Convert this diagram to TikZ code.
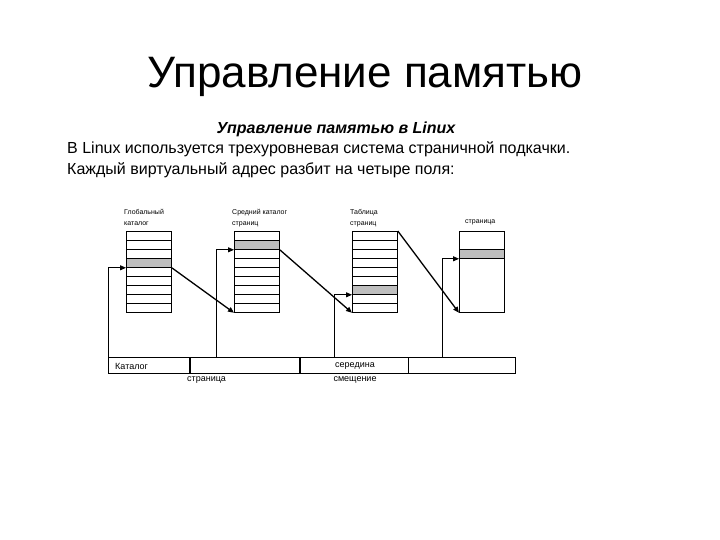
\documentclass[tikz,border=0pt]{standalone}
\usepackage{fontspec}
\setmainfont{Liberation Sans}
\usepackage{tikz}
\usetikzlibrary{arrows.meta,positioning}
\definecolor{pgline}{HTML}{000000}
\definecolor{pgcell}{HTML}{BEBEBE}

\begin{document}
\begin{tikzpicture}[
    x=1pt,y=-1pt,
    tbl/.style={draw=pgline, line width=0.8pt, minimum width=45pt, minimum height=81pt, inner sep=0pt, anchor=north west},
    cell/.style={draw=pgline, line width=0.8pt, fill=pgcell, minimum width=45pt, minimum height=9pt, inner sep=0pt, anchor=north west},
    field/.style={draw=pgline, line width=0.8pt, minimum height=16pt, inner sep=0pt},
    lbl/.style={font=\fontsize{7}{11}\selectfont, align=left, inner sep=0pt, anchor=north west},
    tag/.style={font=\fontsize{9}{10}\selectfont, inner sep=0pt},
    link/.style={draw=pgline, line width=0.9pt, -{Triangle[length=6pt,width=5pt]}},
    jump/.style={draw=pgline, line width=1.3pt, -{Triangle[length=6pt,width=5pt]}}
  ]
    \useasboundingbox (0,0) rectangle (720,540);

    \node (title) at (365,77) {\fontsize{44}{48}\selectfont Управление памятью};
    \node (sub) at (336,129) {\fontsize{16}{18}\selectfont\bfseries\itshape Управление памятью в Linux};
    \node[anchor=west, inner sep=0pt, align=left, font=\fontsize{16}{21}\selectfont] (body) at (67,160)
      {В Linux используется трехуровневая система страничной подкачки.\\Каждый виртуальный адрес разбит на четыре поля:};

    % tables
    \node[tbl] (gdir) at (126,231) {};
    \node[tbl] (mdir) at (234,231) {};
    \node[tbl] (ptab) at (352,231) {};
    \node[tbl] (page) at (459,231) {};
    \foreach \t in {gdir,mdir,ptab}
      \foreach \k in {1,...,8}
        \draw[line width=0.8pt] ([yshift=-9*\k pt]\t.north west) -- ([yshift=-9*\k pt]\t.north east);
    \node[cell] (gsel) at (126,258) {};
    \node[cell] (msel) at (234,240) {};
    \node[cell] (psel) at (352,285) {};
    \node[cell] (osel) at (459,249) {};

    \node[lbl] (glbl) at (124,209) {Глобальный\\каталог};
    \node[lbl] (mlbl) at (232,209) {Средний каталог\\страниц};
    \node[lbl] (plbl) at (350,209) {Таблица\\страниц};
    \node[lbl] (olbl) at (465,220) {страница};

    % address
    \node[field, anchor=north west, minimum width=81pt] (fdir) at (108,357) {};
    \node[field, minimum width=109pt, right=0pt of fdir] (fmid) {};
    \node[field, minimum width=108pt, right=0pt of fmid] (fpt) {};
    \node[field, minimum width=107pt, right=0pt of fpt] (foff) {};
    \node[tag, anchor=west] (tdir) at (115,366) {Каталог};
    \node[tag] (tmid) at (355,366) {середина};
    \node[tag, anchor=west] (tpage) at (187,380) {страница};
    \node[tag] (toff) at (355,380) {смещение};

    \coordinate (amid) at (216.7,357);
    \coordinate (apt) at (334,357);
    \coordinate (aoff) at (442,357);

    \draw[link] (fdir.north west) |- (gsel.south west);
    \draw[link] (amid) |- (msel.south west);
    \draw[link] (apt) |- (psel.south west);
    \draw[link] (aoff) |- (osel.south west);

    \draw[jump] (gsel.south east) -- (mdir.south west);
    \draw[jump] (msel.south east) -- (ptab.south west);
    \draw[jump] (ptab.north east) -- (page.south west);
  \end{tikzpicture}
\end{document}
